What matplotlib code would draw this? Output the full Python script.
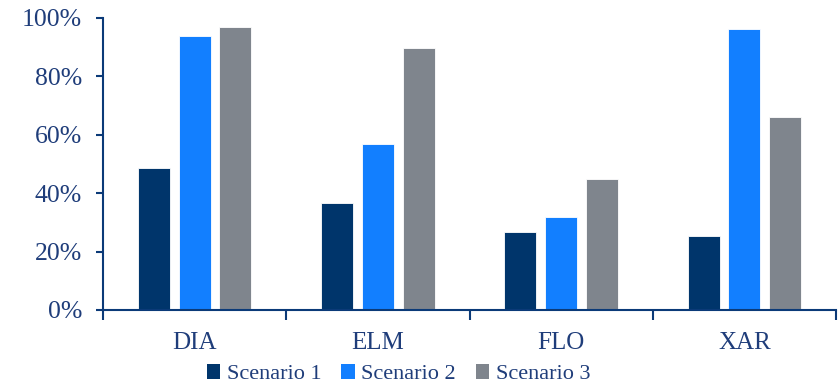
import numpy as np
import matplotlib.pyplot as plt
from matplotlib.ticker import PercentFormatter

plt.rcParams['font.family'] = ['Liberation Serif', 'DejaVu Serif']

categories = ["DIA", "ELM", "FLO", "XAR"]
scenario_1 = [48.5, 36.5, 26.8, 25.2]
scenario_2 = [93.7, 56.7, 31.8, 96.1]
scenario_3 = [97.0, 89.7, 45.0, 66.2]
series_names = ["Scenario 1", "Scenario 2", "Scenario 3"]
colors = ["#00356B", "#127FFF", "#7F858D"]
text_color = "#1F3D7A"
axis_color = "#0B3A78"

fig = plt.figure(figsize=(8.39, 3.86), dpi=100)
ax = fig.add_axes([0.1228, 0.197, 0.8736, 0.7564])

x = np.arange(len(categories))
width = 0.175
step = 0.222
for i, (vals, name, c) in enumerate(zip([scenario_1, scenario_2, scenario_3], series_names, colors)):
    ax.bar(x + (i - 1) * step, vals, width, color=c, label=name,
           edgecolor="white", linewidth=0.6)

ax.set_xlim(-0.5, len(categories) - 0.5)
ax.set_ylim(0, 100)
ax.set_yticks(np.arange(0, 101, 20))
ax.yaxis.set_major_formatter(PercentFormatter(decimals=0))

ax.set_xticks(x)
ax.set_xticklabels(categories)
ax.set_xticks(np.arange(-0.5, len(categories), 1), minor=True)
ax.tick_params(axis="x", which="major", length=0, pad=16, labelsize=18, labelcolor=text_color)
ax.tick_params(axis="x", which="minor", length=7, width=1.5, color=axis_color, direction="out")
ax.tick_params(axis="y", length=5, width=1.5, color=axis_color, pad=10, labelsize=18.5, labelcolor=text_color)

for side in ["top", "right"]:
    ax.spines[side].set_visible(False)
for side in ["left", "bottom"]:
    ax.spines[side].set_color(axis_color)
    ax.spines[side].set_linewidth(1.5)

leg = fig.legend(loc="center", bbox_to_anchor=(0.475, 0.03), ncol=3, frameon=False,
                 fontsize=16, handlelength=0.6, handleheight=0.6, handletextpad=0.3,
                 columnspacing=0.9, labelcolor=text_color)
for h in leg.legend_handles:
    h.set_linewidth(0)

fig.savefig("out.png", dpi=100)
